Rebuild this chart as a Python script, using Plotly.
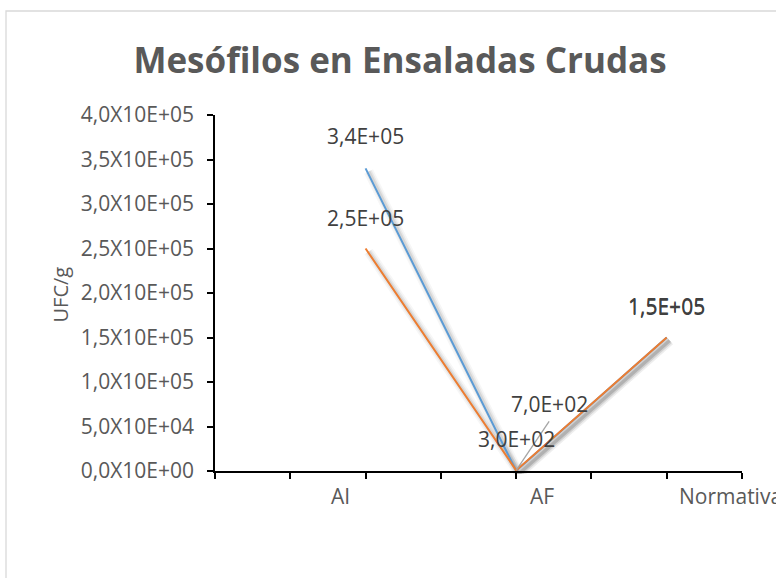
import plotly.graph_objects as go

# Microbial counts (UFC/g) for raw salads
categories = ["AI", "AF", "Normativa"]
serie_azul = [3.4e5, 3.0e2, 1.5e5]
serie_naranja = [2.5e5, 7.0e2, 1.5e5]
y_ticks = [0, 5e4, 1e5, 1.5e5, 2e5, 2.5e5, 3e5, 3.5e5, 4e5]

# label styling (pixel offsets / anchors for category names)
cat_xshift = [-25, 26, 10]
cat_xanchor = ["center", "center", "left"]

BLUE = "#5B9BD5"
ORANGE = "#ED7D31"
GREY_TXT = "#595959"
FONT = "Open Sans"

W, H = 776, 578
ML, MR, MT, MB = 215, 31, 115, 104
PW = W - ML - MR          # 530
PH = H - MT - MB          # 359
OFF = 3                   # shadow offset, px

x_idx = list(range(len(categories)))
x_range = [-1, 2.5]
y_range = [0, 4e5]


def sci(v):
    return f"{v:.1E}".replace(".", ",")


def tick_fmt(v):
    return sci(v).replace("E", "X10E")


fig = go.Figure()

# soft drop shadow (lower subplot, shifted right/down)
for vals in (serie_azul, serie_naranja):
    for w, a in ((10, 0.035), (6.5, 0.055), (3.5, 0.08)):
        fig.add_trace(go.Scatter(
            x=x_idx, y=vals, mode="lines", xaxis="x", yaxis="y",
            line=dict(color=f"rgba(0,0,0,{a})", width=w),
            hoverinfo="skip", showlegend=False))

# main series
fig.add_trace(go.Scatter(x=x_idx, y=serie_azul, mode="lines", name="AI",
                         xaxis="x2", yaxis="y2",
                         line=dict(color=BLUE, width=2), showlegend=False))
fig.add_trace(go.Scatter(x=x_idx, y=serie_naranja, mode="lines", name="AF",
                         xaxis="x2", yaxis="y2",
                         line=dict(color=ORANGE, width=2), showlegend=False))

LBL = dict(family=FONT, size=21, color="#404040")
annotations = []
# data labels
for i, v in enumerate(serie_azul):
    annotations.append(dict(x=i, y=v, xref="x2", yref="y2", text=sci(v),
                            showarrow=False, yshift=32, font=LBL))
for i, v in enumerate(serie_naranja):
    if i == 1:
        annotations.append(dict(x=i, y=v, xref="x2", yref="y2", text=sci(v),
                                showarrow=False, xshift=33, yshift=66,
                                font=LBL))
    else:
        annotations.append(dict(x=i, y=v, xref="x2", yref="y2", text=sci(v),
                                showarrow=False, yshift=31, font=LBL))

# category labels
for i, c in enumerate(categories):
    annotations.append(dict(x=i, y=0, xref="x2", yref="y2", text=c,
                            showarrow=False, xanchor=cat_xanchor[i],
                            xshift=cat_xshift[i], yshift=-25,
                            font=dict(family=FONT, size=21, color=GREY_TXT)))

# y-axis title
annotations.append(dict(x=(60 - ML) / PW, y=0.5, xref="paper", yref="paper",
                        xanchor="center", yanchor="middle",
                        text="UFC/g", textangle=-90, showarrow=False,
                        font=dict(family=FONT, size=20, color=GREY_TXT)))

shapes = [
    # chart border
    dict(type="rect", xref="paper", yref="paper",
         x0=(6 - ML) / PW, x1=2.0, y0=-2.0, y1=(H - MB - 11) / PH,
         line=dict(color="#D9D9D9", width=1.3), fillcolor="rgba(0,0,0,0)",
         layer="below"),
    # leader line for the shifted label
    dict(type="line", xref="x2", yref="y2",
         xsizemode="pixel", ysizemode="pixel",
         xanchor=1, yanchor=serie_naranja[1],
         x0=0, x1=33, y0=0, y1=49,
         line=dict(color="#A5A5A5", width=1.3)),
]

half_ticks = [x_range[0] + 0.5 * k for k in range(8)]

fig.update_layout(
    width=W, height=H,
    margin=dict(l=ML, r=MR, t=MT, b=MB, pad=0),
    paper_bgcolor="white", plot_bgcolor="rgba(0,0,0,0)",
    title=dict(text="<b>Mesófilos en Ensaladas Crudas</b>",
               x=400 / W, xref="container", xanchor="center",
               y=1 - 61 / H, yref="container", yanchor="middle",
               font=dict(family=FONT, size=35, color=GREY_TXT)),
    xaxis=dict(domain=[OFF / PW, 1], range=x_range, visible=False,
               fixedrange=True),
    yaxis=dict(domain=[0, 1 - OFF / PH], range=y_range, visible=False,
               fixedrange=True),
    xaxis2=dict(domain=[0, 1 - OFF / PW], range=x_range, anchor="y2",
                showgrid=False, zeroline=False,
                showline=True, linecolor="black", linewidth=1.5,
                ticks="outside", ticklen=6, tickwidth=1.5, tickcolor="black",
                tickvals=half_ticks, ticktext=[""] * len(half_ticks)),
    yaxis2=dict(domain=[OFF / PH, 1], range=y_range, anchor="x2",
                showgrid=False, zeroline=False,
                showline=True, linecolor="black", linewidth=1.5,
                ticks="outside", ticklen=6, tickwidth=1.5, tickcolor="black",
                tickvals=y_ticks, ticktext=[tick_fmt(v) for v in y_ticks],
                ticklabelstandoff=9,
                tickfont=dict(family=FONT, size=21, color=GREY_TXT)),
    annotations=annotations,
    shapes=shapes,
    showlegend=False,
)

fig.write_html("out.html")
